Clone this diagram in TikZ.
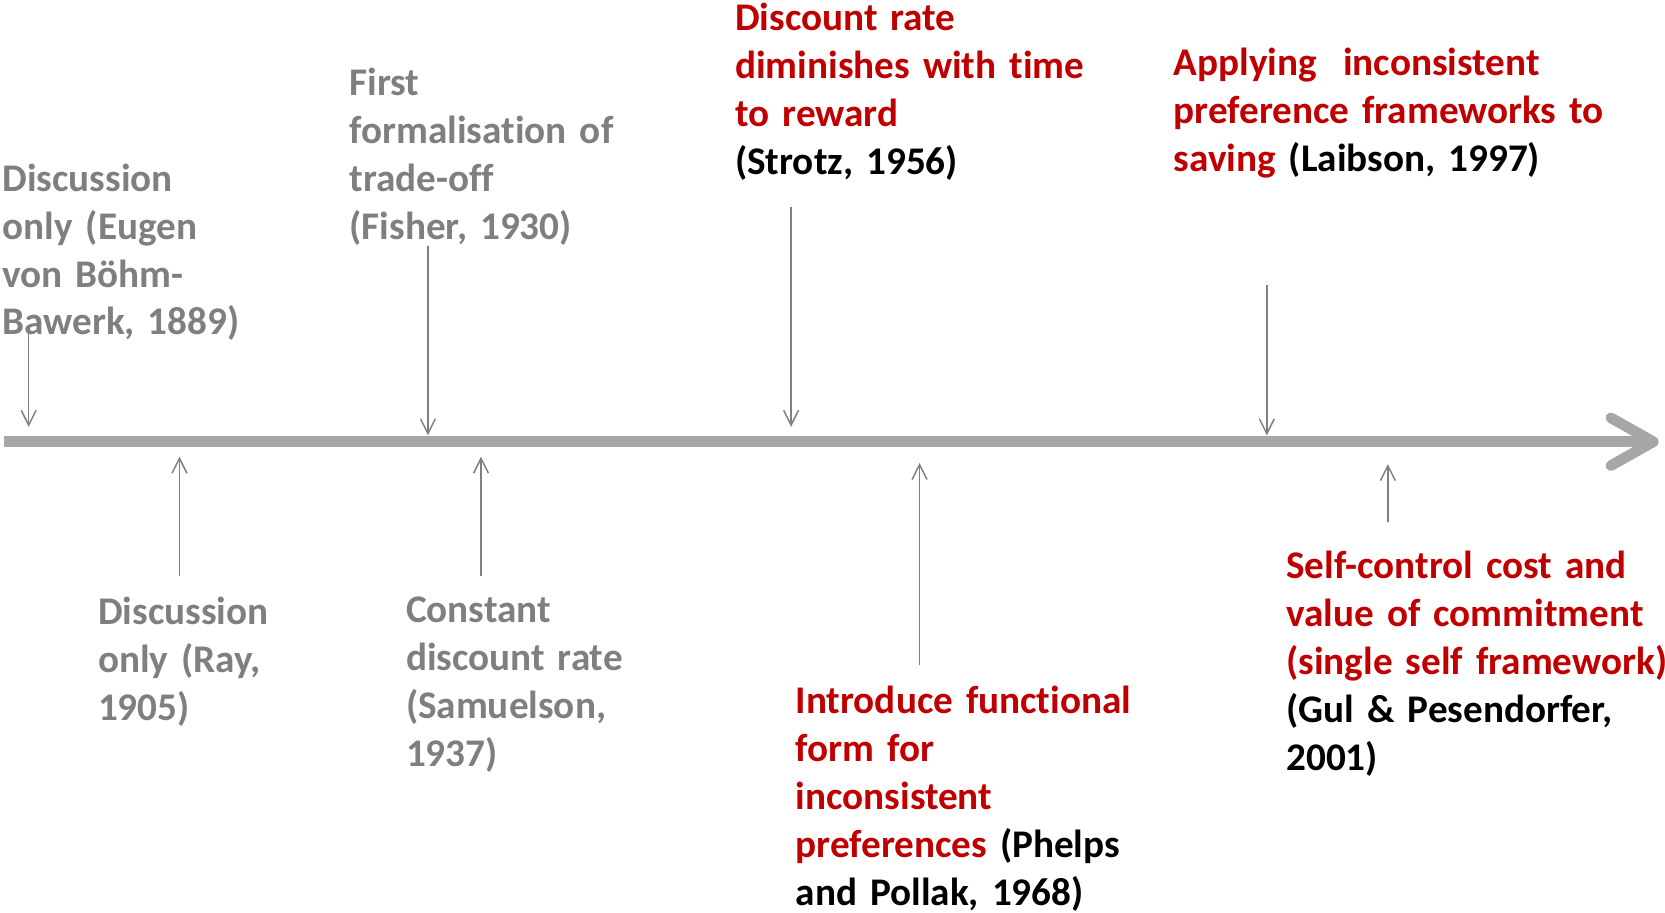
\documentclass[tikz,border=0pt]{standalone}
\usepackage{fontspec}
\setmainfont{Carlito}[Ligatures=NoCommon]
\usepackage{xcolor}
\usetikzlibrary{arrows.meta}
\definecolor{labelgray}{HTML}{7F7F7F}
\definecolor{linegray}{HTML}{A6A6A6}
\definecolor{tickgray}{HTML}{808080}
\definecolor{labelred}{HTML}{C00000}

\begin{document}
\begin{tikzpicture}[
  x=0.02cm, y=-0.02cm,  event/.style={anchor=base west,inner sep=0pt,text width=9cm,align=left,font=\fontsize{21}{25.7}\selectfont\bfseries,text=labelgray},  sevent/.style={event,text=labelred},  tick/.style={draw=tickgray,line width=0.8pt,-{Straight Barb[length=8pt,width=8pt]}},  axis/.style={draw=linegray,line width=5.7pt,-{Straight Barb[length=0.8cm,width=0.9cm,round]}}
]
  \useasboundingbox (0,0) rectangle (1568,859);
  \coordinate (t0) at (4,416);
  \coordinate (t1) at (1562,416);
  \draw[axis] (t0) -- (t1);
  % above the line
  \node[event] (e1) at (2,180) {Discussion\\only (Eugen\\von Böhm-\\Bawerk, 1889)};
  \node[event] (e2) at (329,90) {First\\formalisation of\\trade-off\\(Fisher, 1930)};
  \node[sevent] (e3) at (692,29) {Discount rate\\diminishes with time\\to reward\\{\color{black}(Strotz, 1956)}};
  \node[sevent] (e4) at (1105,71) {Applying\ \ inconsistent\\preference frameworks to\\saving {\color{black}(Laibson, 1997)}};
  % below the line
  \node[event] (e5) at (92,588) {Discussion\\only (Ray,\\1905)};
  \node[event] (e6) at (382,586) {Constant\\discount rate\\(Samuelson,\\1937)};
  \node[sevent] (e7) at (749,672) {Introduce functional\\form for\\inconsistent\\preferences {\color{black}(Phelps\\and Pollak, 1968)}};
  \node[sevent] (e8) at (1211,545) {Self-control cost and\\value of commitment\\(single self framework)\\{\color{black}(Gul \& Pesendorfer,\\2001)}};
  % pointers
  \coordinate (s1) at (27,310);   \coordinate (p1) at (27,402);
  \coordinate (s2) at (403,232);  \coordinate (p2) at (403,410);
  \coordinate (s3) at (745,195);  \coordinate (p3) at (745,402);
  \coordinate (s4) at (1193,268); \coordinate (p4) at (1193,410);
  \coordinate (s5) at (169,542);  \coordinate (p5) at (169,430);
  \coordinate (s6) at (453,542);  \coordinate (p6) at (453,430);
  \coordinate (s7) at (866,626);  \coordinate (p7) at (866,436);
  \coordinate (s8) at (1307,492); \coordinate (p8) at (1307,437);
  \draw[tick] (s1) -- (p1);
  \draw[tick] (s2) -- (p2);
  \draw[tick] (s3) -- (p3);
  \draw[tick] (s4) -- (p4);
  \draw[tick] (s5) -- (p5);
  \draw[tick] (s6) -- (p6);
  \draw[tick] (s7) -- (p7);
  \draw[tick] (s8) -- (p8);
\end{tikzpicture}
\end{document}
